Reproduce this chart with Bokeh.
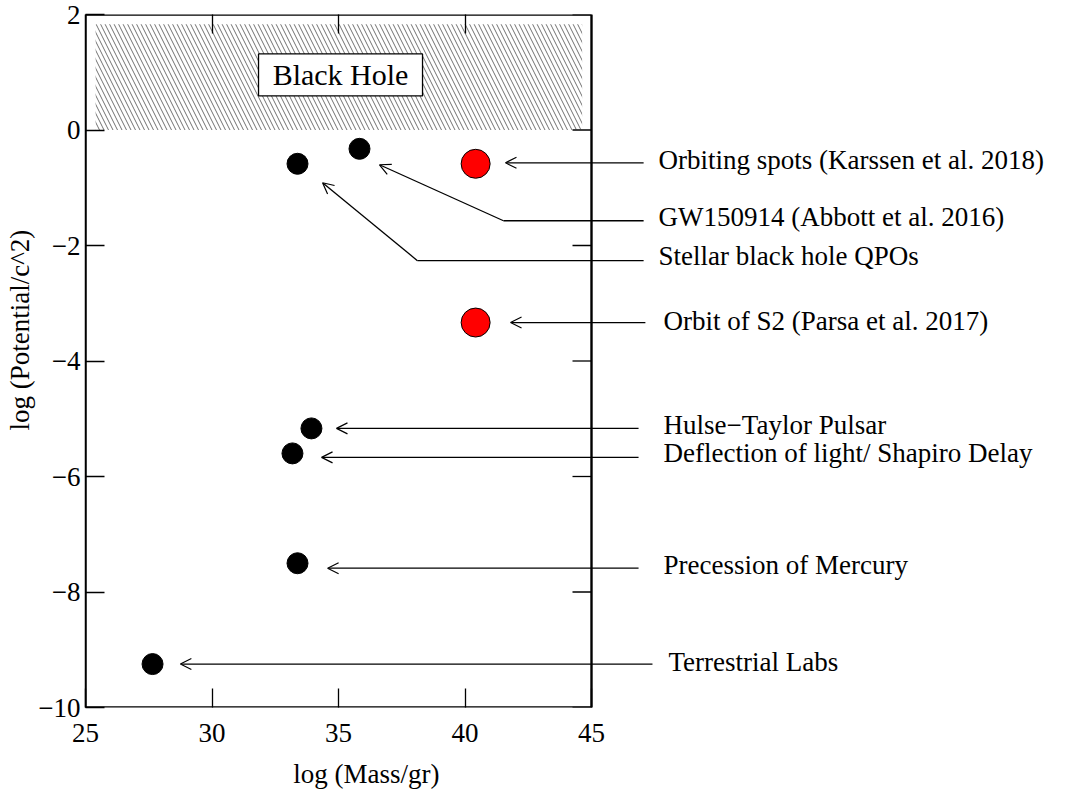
import numpy as np
from bokeh.plotting import figure
from bokeh.models import (Range1d, LinearAxis, FixedTicker, ColumnDataSource,
                          Arrow, OpenHead, Title)
from bokeh.core.properties import value
from bokeh.embed import file_html
from bokeh.resources import INLINE

FONT = "Liberation Serif"

# ---- data ----
black_x = [33.38, 35.83, 33.93, 33.18, 33.38, 27.65]
black_y = [-0.585, -0.326, -5.167, -5.600, -7.502, -9.248]
red_x = [40.42, 40.42]
red_y = [-0.585, -3.334]

labels = ["Orbiting spots (Karssen et al. 2018)",
          "GW150914 (Abbott et al. 2016)",
          "Stellar black hole QPOs",
          "Orbit of S2 (Parsa et al. 2017)",
          "Hulse\u2212Taylor Pulsar",
          "Deflection of light/ Shapiro Delay",
          "Precession of Mercury",
          "Terrestrial Labs"]
label_x = [47.65, 47.65, 47.65, 47.85, 47.85, 47.85, 47.85, 48.04]
label_y = [-0.52, -1.50, -2.18, -3.30, -5.10, -5.60, -7.53, -9.21]

arrow_start_x = [47.06, 47.06, 47.06, 47.13, 46.86, 46.86, 46.86, 47.41]
arrow_start_y = [-0.568, -1.571, -2.262, -3.334, -5.167, -5.669, -7.588, -9.248]
elbow_x = [None, 41.52, 38.12, None, None, None, None, None]
tip_x = [41.60, 36.62, 34.37, 41.80, 34.92, 34.33, 34.57, 28.75]
tip_y = [-0.568, -0.602, -0.914, -3.334, -5.167, -5.669, -7.588, -9.248]

x_ticks = [25, 30, 35, 40, 45]
y_ticks = [-10, -8, -6, -4, -2, 0, 2]
x_title = "log (Mass/gr)"
y_title = "log (Potential/c^2)"
x_title_center = 36.1
y_title_center = -3.49

bh_left, bh_right, bh_bottom, bh_top = 25.4, 44.63, 0.0, 1.83
bh_label_x, bh_label_y = 35.08, 0.954

# ---- layout ----
left_b, right_b, top_b, bottom_b = 85, 7, 14, 91
frame_w = 985
frame_h = 693
px_per_unit = 506.0 / 20.0
x_end = 25 + frame_w / px_per_unit
y_px_per_unit = frame_h / 12.0
x_title_w = 146.0   # approx. rendered width of the x title at 27px
y_title_w = 198.0   # approx. rendered length of the y title at 27px

p = figure(frame_width=frame_w, frame_height=frame_h,
           output_backend="svg", toolbar_location=None,
           x_range=Range1d(25, x_end), y_range=Range1d(-10, 2),
           min_border_left=left_b, min_border_right=right_b,
           min_border_top=top_b, min_border_bottom=bottom_b,
           x_axis_location=None, y_axis_location=None, title=None)
p.outline_line_color = None
p.xgrid.visible = False
p.ygrid.visible = False
p.background_fill_color = "white"
p.border_fill_color = "white"

def minus(v):
    return str(v).replace("-", "\u2212")

def style_ticks(ax):
    ax.major_tick_in = 19
    ax.major_tick_out = 0
    ax.minor_tick_line_color = None
    ax.major_tick_line_width = 1.3
    ax.major_tick_line_color = "black"

# bottom axis
xb = LinearAxis(ticker=FixedTicker(ticks=x_ticks))
xb.axis_line_color = None
style_ticks(xb)
xb.major_label_text_font = FONT
xb.major_label_text_font_size = "27px"
xb.major_label_text_color = "black"
xb.major_label_standoff = 16
p.add_layout(xb, "below")

# x title, placed where the reference has it
x_off = (x_title_center - 25) * px_per_unit - x_title_w / 2
p.add_layout(Title(text=x_title, align="left", offset=x_off, standoff=25,
                   text_font=FONT, text_font_size="27px", text_font_style="normal",
                   text_color="black"), "below")

# top axis (ticks only)
xt = LinearAxis(ticker=FixedTicker(ticks=x_ticks[1:-1]))
xt.axis_line_color = None
style_ticks(xt)
xt.major_label_text_color = None
xt.major_label_text_font_size = "1px"
xt.major_label_standoff = 0
p.add_layout(xt, "above")

# left axis
yl = LinearAxis(ticker=FixedTicker(ticks=y_ticks))
yl.axis_line_width = 1.5
yl.axis_line_color = "black"
style_ticks(yl)
yl.major_label_text_font = FONT
yl.major_label_text_font_size = "27px"
yl.major_label_text_color = "black"
yl.major_label_standoff = 5
yl.major_label_overrides = {t: minus(t) for t in y_ticks}
p.add_layout(yl, "left")

y_off = (y_title_center - (-10)) * y_px_per_unit - y_title_w / 2
p.add_layout(Title(text=y_title, align="left", offset=y_off, standoff=2,
                   text_font=FONT, text_font_size="27px", text_font_style="normal",
                   text_color="black"), "left")

# frame box
p.quad(left=[x_ticks[0]], right=[x_ticks[-1]], bottom=[y_ticks[0]], top=[y_ticks[-1]],
       fill_color=None, line_color="black", line_width=2.4)
# right-side ticks
p.ray(x=[x_ticks[-1]] * len(y_ticks), y=y_ticks, length=19, length_units="screen",
      angle=np.pi, line_color="black", line_width=1.3)

# black hole hatched region
p.quad(left=[bh_left], right=[bh_right], bottom=[bh_bottom], top=[bh_top],
       fill_color=None, line_color=None, hatch_pattern="\\", hatch_color="#333333",
       hatch_weight=0.7, hatch_scale=9)
p.rect(x=[bh_label_x], y=[bh_label_y], width=164, height=42,
       width_units="screen", height_units="screen",
       fill_color="white", line_color="black", line_width=1.3)
p.text(x=[bh_label_x], y=[bh_label_y], text=["Black Hole"], text_align="center",
       text_baseline="middle", text_font=value(FONT), text_font_size="30px",
       text_color="black")

# points
p.scatter(black_x, black_y, size=21, fill_color="black", line_color="black")
p.scatter(red_x, red_y, size=29, fill_color="#ff0000", line_color="black", line_width=1)

# leader lines and arrows
seg_x0, seg_y0, seg_x1, seg_y1 = [], [], [], []
ar_x0, ar_y0, ar_x1, ar_y1 = [], [], [], []
for sx, sy, ex, tx, ty in zip(arrow_start_x, arrow_start_y, elbow_x, tip_x, tip_y):
    if ex is None:
        ar_x0.append(sx); ar_y0.append(sy); ar_x1.append(tx); ar_y1.append(ty)
    else:
        seg_x0.append(sx); seg_y0.append(sy); seg_x1.append(ex); seg_y1.append(sy)
        ar_x0.append(ex); ar_y0.append(sy); ar_x1.append(tx); ar_y1.append(ty)

p.segment(x0=seg_x0, y0=seg_y0, x1=seg_x1, y1=seg_y1, line_color="black", line_width=1.3)
asrc = ColumnDataSource(dict(x0=ar_x0, y0=ar_y0, x1=ar_x1, y1=ar_y1))
p.add_layout(Arrow(source=asrc, x_start="x0", y_start="y0", x_end="x1", y_end="y1",
                   line_color="black", line_width=1.3,
                   end=OpenHead(size=11, line_width=1.2, line_color="black")))

p.text(x=label_x, y=label_y, text=labels, text_align="left", text_baseline="middle",
       text_font=value(FONT), text_font_size="27px", text_color="black")

open("out.html", "w").write(file_html(p, INLINE))
